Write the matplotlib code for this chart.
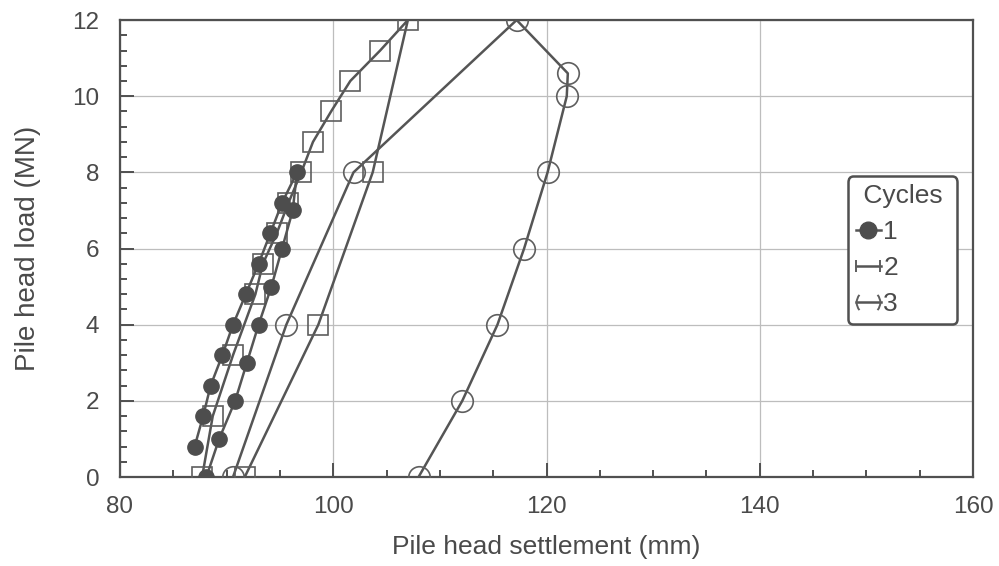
import numpy as np
import matplotlib.pyplot as plt
from matplotlib.lines import Line2D
from matplotlib.path import Path
from matplotlib.ticker import MultipleLocator

plt.rcParams['font.family'] = ['Liberation Sans', 'DejaVu Sans']

# cycle 1 (filled circles): loading then unloading
c1_x = [87.0, 87.8, 88.5, 89.6, 90.6, 91.8, 93.0, 94.1, 95.2, 96.6,
        96.2, 95.2, 94.2, 93.0, 91.9, 90.8, 89.3, 88.1]
c1_y = [0.8, 1.6, 2.4, 3.2, 4.0, 4.8, 5.6, 6.4, 7.2, 8.0,
        7.0, 6.0, 5.0, 4.0, 3.0, 2.0, 1.0, 0.0]

# cycle 2 (squares)
c2_x = [87.7, 88.7, 90.6, 92.7, 93.4, 94.7, 95.8, 97.0, 98.1, 99.8,
        101.6, 104.4, 107.0, 103.7, 98.6, 91.7]
c2_y = [0.0, 1.6, 3.2, 4.8, 5.6, 6.4, 7.2, 8.0, 8.8, 9.6,
        10.4, 11.2, 12.0, 8.0, 4.0, 0.0]

# cycle 3 (open circles)
c3_x = [90.6, 95.6, 101.9, 117.2, 122.0, 121.9, 120.1, 117.9, 115.4, 112.1, 108.0]
c3_y = [0.0, 4.0, 8.0, 12.0, 10.6, 10.0, 8.0, 6.0, 4.0, 2.0, 0.0]

cycle_labels = ['1', '2', '3']

line_c = '#555555'
edge_c = '#5e5e5e'
text_c = '#4a4a4a'

fig = plt.figure(figsize=(9.99, 5.66), dpi=100)
ax = fig.add_axes([0.1201, 0.1572, 0.8539, 0.8074])

ax.plot(c3_x, c3_y, color=line_c, lw=1.8, marker='o', ms=15.5,
        mfc='none', mec=edge_c, mew=1.2, zorder=3)
ax.plot(c2_x, c2_y, color=line_c, lw=1.8, marker='s', ms=14,
        mfc='none', mec=edge_c, mew=1.2, zorder=4)
ax.plot(c1_x, c1_y, color=line_c, lw=1.8, marker='o', ms=11,
        mfc='#4d4d4d', mec='#4d4d4d', mew=1.0, zorder=5)

ax.set_xlim(80, 160)
ax.set_ylim(0, 12)
ax.xaxis.set_major_locator(MultipleLocator(20))
ax.xaxis.set_minor_locator(MultipleLocator(5))
ax.yaxis.set_major_locator(MultipleLocator(2))
ax.yaxis.set_minor_locator(MultipleLocator(0.4))
ax.grid(True, which='major', color='#bdbdbd', lw=0.9, zorder=0)
ax.set_axisbelow(True)

for s in ax.spines.values():
    s.set_color('#505050')
    s.set_linewidth(1.6)

ax.tick_params(which='both', direction='in', colors='#505050', labelcolor=text_c,
               labelsize=17.5, width=1.4)
ax.tick_params(which='major', length=10)
ax.tick_params(which='minor', length=5)
ax.tick_params(axis='x', pad=14)
ax.tick_params(axis='y', pad=15)

ax.set_xlabel('Pile head settlement (mm)', fontsize=19, color=text_c, labelpad=12)
ax.set_ylabel('Pile head load (MN)', fontsize=20, color=text_c, labelpad=22)

# legend keys look clipped in the original: bars for squares, brackets for circles
bars = Path([(-1, -0.5), (-1, 0.5), (1, -0.5), (1, 0.5)],
            [Path.MOVETO, Path.LINETO, Path.MOVETO, Path.LINETO])
parens = Path.make_compound_path(Path.arc(140, 220), Path.arc(-40, 40))

h1 = Line2D([], [], color=line_c, lw=1.8, marker='o', ms=12,
            mfc='#4d4d4d', mec='#4d4d4d')
h2 = Line2D([], [], color=line_c, lw=1.8, marker=bars, ms=17,
            mfc='none', mec=edge_c, mew=1.4)
h3 = Line2D([], [], color=line_c, lw=1.8, marker=parens, ms=17,
            mfc='none', mec=edge_c, mew=1.4)

leg = ax.legend([h1, h2, h3], cycle_labels, title=' Cycles ', loc='upper left',
                bbox_to_anchor=(0.853, 0.658), fontsize=19, title_fontsize=19,
                handlelength=0.95, handletextpad=0.1, labelspacing=0.45,
                borderpad=0.3, borderaxespad=0, numpoints=1, fancybox=True,
                framealpha=1, alignment='left')
leg.get_frame().set_edgecolor('#505050')
leg.get_frame().set_linewidth(1.8)
for t in leg.get_texts():
    t.set_color(text_c)
leg.get_title().set_color(text_c)

fig.savefig('out.png', dpi=100)
